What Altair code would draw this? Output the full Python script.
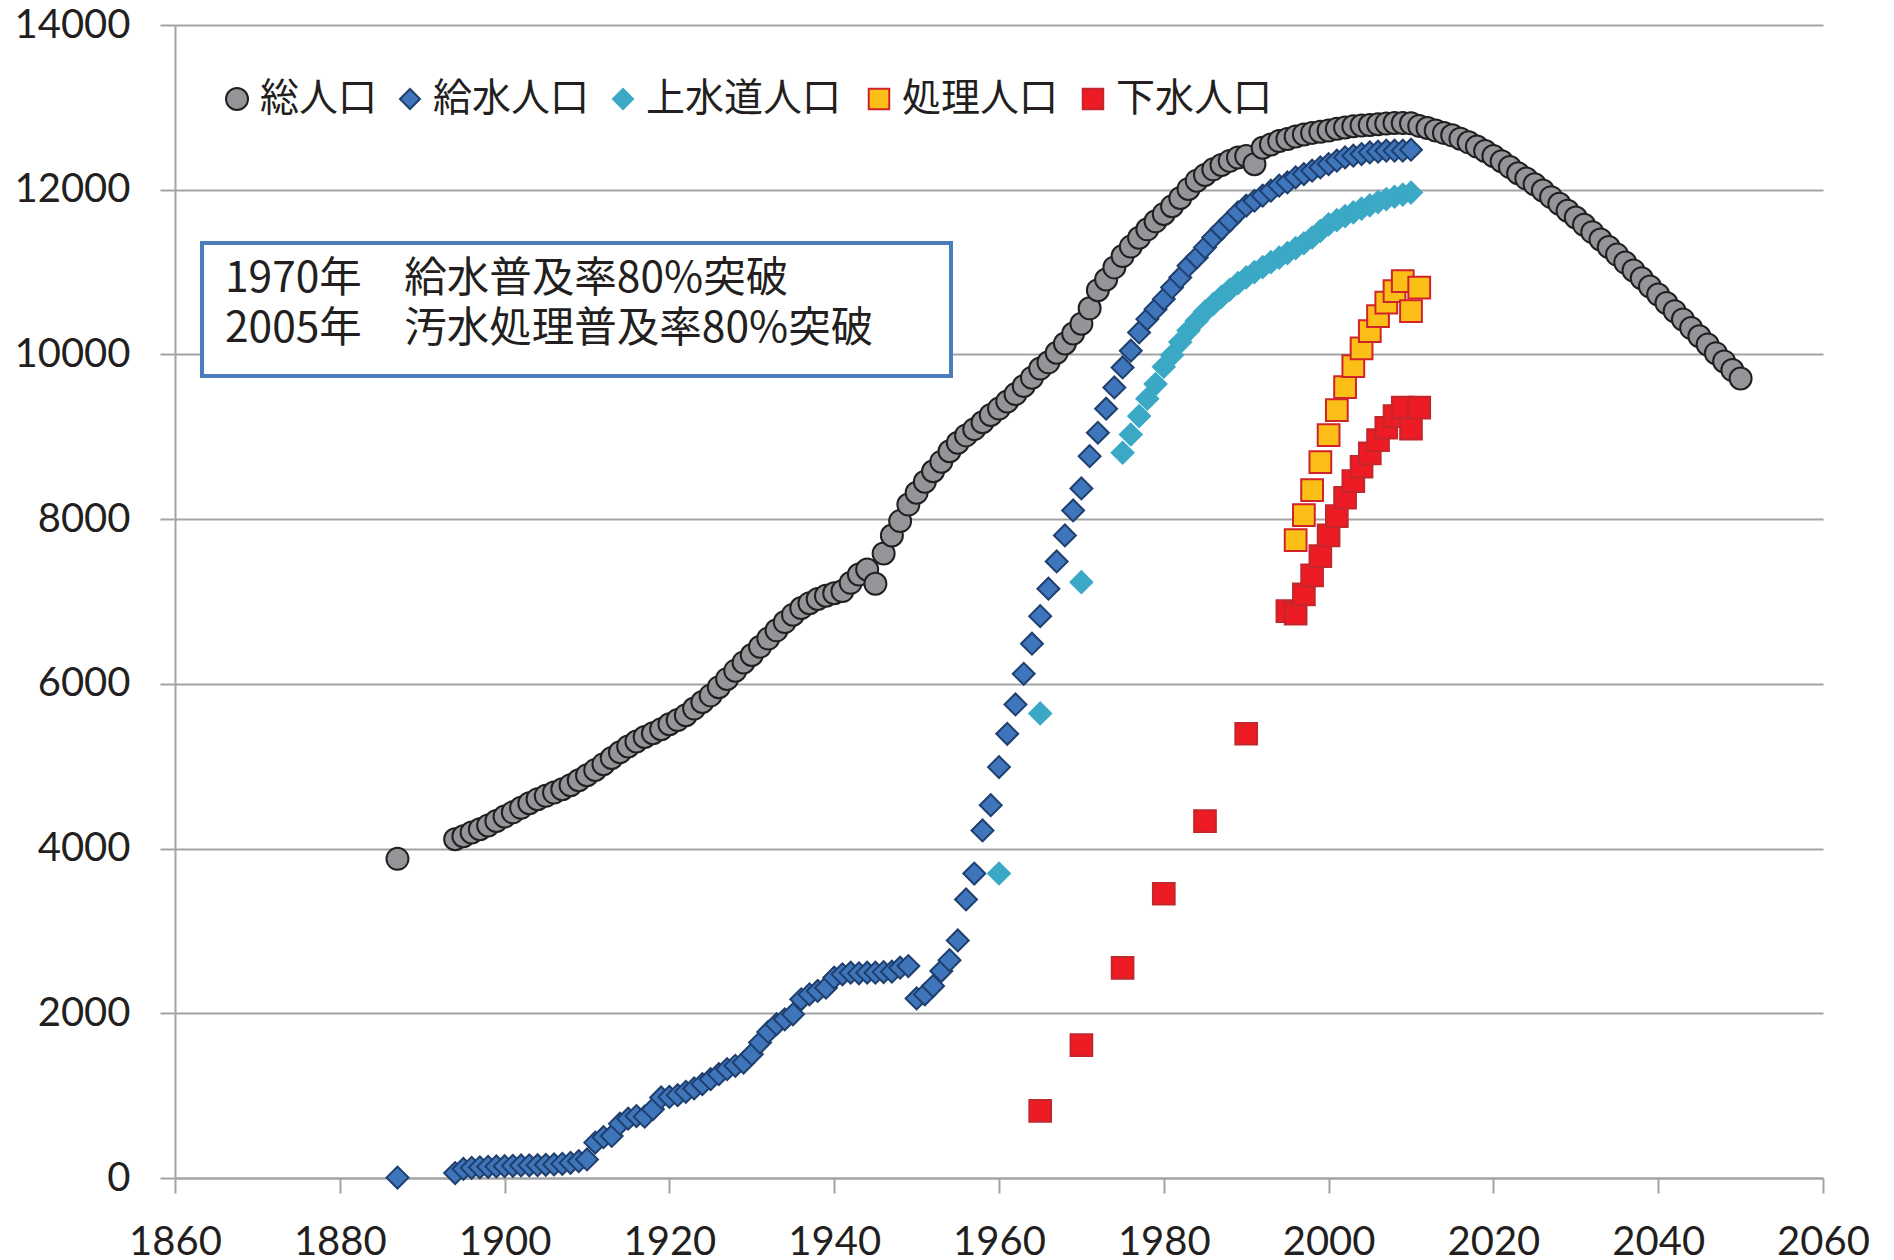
import altair as alt
import pandas as pd

SERIES = ["総人口", "給水人口", "上水道人口", "処理人口", "下水人口"]
SHAPES = ["circle", "diamond", "diamond", "square", "square"]
FILLS = ["#939598", "#3F75BA", "#3BA9C6", "#FCBF17", "#ED1C24"]
STROKES = ["#231F20", "#1F3F6E", "#3BA9C6", "#D0232A", "#C1272D"]
SIZES = [484, 470, 470, 440, 484]

total_years = [1887] + list(range(1894, 2051))
total_values = [3875,
    4113, 4150, 4195, 4235, 4280, 4335, 4390, 4440, 4495, 4550,
    4600, 4640, 4680, 4720, 4770, 4830, 4890, 4955, 5025, 5100,
    5170, 5240, 5300, 5355, 5400, 5450, 5510, 5560, 5620, 5700,
    5780, 5860, 5960, 6060, 6160, 6260, 6350, 6450, 6550, 6650,
    6750, 6840, 6920, 6980, 7030, 7070, 7100, 7126, 7227, 7328,
    7389, 7215, 7583, 7802, 7976, 8177, 8320, 8454, 8581, 8698,
    8824, 8928, 9017, 9093, 9177, 9264, 9342, 9429, 9518, 9616,
    9718, 9828, 9904, 10020, 10133, 10254, 10372, 10560, 10780, 10910,
    11057, 11194, 11309, 11417, 11519, 11616, 11706, 11800, 11900, 12010,
    12110, 12180, 12247, 12300, 12350, 12390, 12410, 12310, 12510, 12550,
    12590, 12615, 12645, 12670, 12690, 12705, 12720, 12740, 12755, 12770,
    12780, 12785, 12795, 12805, 12810, 12810, 12806, 12775, 12750, 12720,
    12690, 12660, 12620, 12575, 12525, 12470, 12410, 12345, 12275, 12200,
    12135, 12066, 11990, 11910, 11830, 11745, 11662, 11575, 11485, 11395,
    11305, 11212, 11115, 11020, 10925, 10825, 10728, 10625, 10525, 10425,
    10320, 10221, 10120, 10015, 9915, 9810, 9708]

supply_years = [1887] + list(range(1894, 2011))
supply_values = [5,
    60, 110, 123, 130, 136, 140, 144, 148, 152, 154,
    156, 160, 164, 172, 184, 204, 225, 430, 495, 510,
    660, 720, 752, 745, 836, 978, 985, 1006, 1046, 1087,
    1140, 1200, 1260, 1321, 1362, 1402, 1503, 1645, 1774, 1867,
    1927, 1988, 2170, 2230, 2271, 2311, 2432, 2473, 2493, 2485,
    2493, 2493, 2500, 2505, 2553, 2574, 2180, 2230, 2331, 2513,
    2645, 2884, 3382, 3697, 4220, 4527, 4989, 5394, 5750, 6122,
    6487, 6822, 7155, 7486, 7802, 8105, 8373, 8765, 9049, 9341,
    9599, 9842, 10045, 10267, 10429, 10550, 10672, 10814, 10935, 11077,
    11178, 11300, 11421, 11522, 11623, 11725, 11806, 11866, 11927, 11988,
    12049, 12089, 12150, 12190, 12231, 12271, 12312, 12352, 12393, 12413,
    12433, 12453, 12462, 12474, 12474, 12474, 12486]

water_years = [1960, 1965, 1970] + list(range(1975, 2011))
water_values = [3697, 5641, 7235,
    8806, 9028, 9251, 9462, 9640, 9850, 9990, 10150, 10290, 10410,
    10520, 10610, 10700, 10785, 10865, 10935, 11000, 11060, 11120, 11175,
    11230, 11290, 11350, 11420, 11500, 11580, 11630, 11680, 11725, 11770,
    11810, 11850, 11885, 11915, 11940, 11965]

treat_years = list(range(1996, 2012))
treat_values = [7745, 8049, 8352, 8693, 9020, 9324, 9603, 9858, 10073, 10283,
    10465, 10628, 10769, 10890, 10526, 10810]

sewer_years = [1965, 1970, 1975, 1980, 1985, 1990] + list(range(1995, 2012))
sewer_values = [816, 1613, 2552, 3451, 4333, 5394,
    6883, 6851, 7086, 7317, 7551, 7802, 8037, 8260, 8462, 8636,
    8798, 8960, 9110, 9251, 9353, 9098, 9353]

NOTES = ["1970年　給水普及率80%突破", "2005年　汚水処理普及率80%突破"]

rows = []
for name, yrs, vals in zip(SERIES,
                           [total_years, supply_years, water_years, treat_years, sewer_years],
                           [total_values, supply_values, water_values, treat_values, sewer_values]):
    for yr, v in zip(yrs, vals):
        rows.append({"series": name, "year": yr, "value": v})
df = pd.DataFrame(rows)

GRID = "#A3A3A6"
INK = "#231F20"
JP = "Noto Sans CJK JP"

points = alt.Chart(df).mark_point(filled=True, opacity=1, strokeWidth=2).encode(
    x=alt.X("year:Q",
            scale=alt.Scale(domain=[1860, 2060], nice=False, zero=False),
            axis=alt.Axis(title=None, values=list(range(1860, 2061, 20)), format="d",
                          grid=False, labelFlush=False, labelPadding=29)),
    y=alt.Y("value:Q",
            scale=alt.Scale(domain=[0, 14000], nice=False),
            axis=alt.Axis(title=None, values=list(range(0, 14001, 2000)), format="d",
                          grid=True, labelFlush=False, labelPadding=30)),
    shape=alt.Shape("series:N", scale=alt.Scale(domain=SERIES, range=SHAPES), legend=None),
    fill=alt.Fill("series:N", scale=alt.Scale(domain=SERIES, range=FILLS), legend=None),
    stroke=alt.Stroke("series:N", scale=alt.Scale(domain=SERIES, range=STROKES), legend=None),
    size=alt.Size("series:N", scale=alt.Scale(domain=SERIES, range=SIZES), legend=None),
)

# legend (drawn as layers: symbol + label per series)
LEG_SYMBOL_X = [62, 235, 448, 704, 918]
LEG_Y = 74
LEG_SYM_SIZE = [484, 400, 400, 420, 420]
one = pd.DataFrame({"a": [0]})
legend_layers = []
for i, name in enumerate(SERIES):
    legend_layers.append(
        alt.Chart(one).mark_point(filled=True, opacity=1, strokeWidth=2).encode(
            x=alt.value(LEG_SYMBOL_X[i]), y=alt.value(LEG_Y),
            shape=alt.value(SHAPES[i]), fill=alt.value(FILLS[i]),
            stroke=alt.value(STROKES[i]), size=alt.value(LEG_SYM_SIZE[i]))
    )
    legend_layers.append(
        alt.Chart(pd.DataFrame({"t": [name]})).mark_text(
            align="left", baseline="middle", font=JP, fontSize=39, color=INK
        ).encode(text="t:N", x=alt.value(LEG_SYMBOL_X[i] + 23), y=alt.value(LEG_Y))
    )

box = alt.Chart(one).mark_rect(
    fill="white", stroke="#4A7EBB", strokeWidth=4
).encode(x=alt.value(27), x2=alt.value(776), y=alt.value(218), y2=alt.value(351))

note1 = alt.Chart(pd.DataFrame({"t": [NOTES[0]]})).mark_text(
    align="left", baseline="middle", font=JP, fontSize=42.5, color=INK
).encode(text="t:N", x=alt.value(50), y=alt.value(254))

note2 = alt.Chart(pd.DataFrame({"t": [NOTES[1]]})).mark_text(
    align="left", baseline="middle", font=JP, fontSize=42.5, color=INK
).encode(text="t:N", x=alt.value(50), y=alt.value(304))

chart = alt.layer(box, note1, note2, points, *legend_layers).properties(
    width=1648, height=1153,
    autosize=alt.AutoSizeParams(type="none"),
    padding={"left": 167, "top": 17, "right": 48, "bottom": 82},
    background="white",
).configure_view(stroke=None).configure_axis(
    domainColor=GRID, domainWidth=2, tickColor=GRID, tickWidth=2, tickSize=15,
    gridColor=GRID, gridWidth=2, labelFont="Lato", labelFontSize=40, labelColor=INK,
)

chart.save("out.html", embed_options={"renderer": "svg", "actions": False})
